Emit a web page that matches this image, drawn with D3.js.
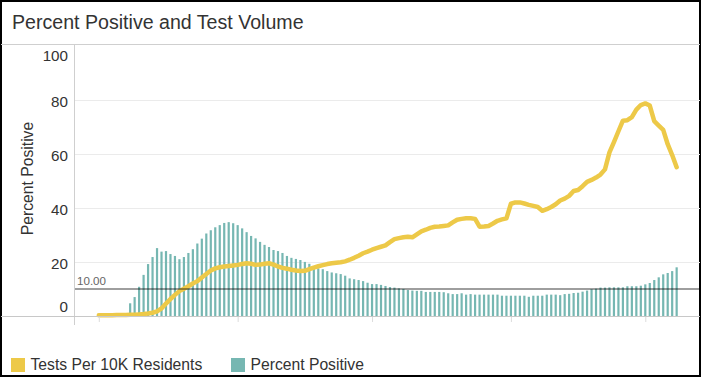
<!DOCTYPE html>
<html>
<head>
<meta charset="utf-8">
<script src="https://cdn.jsdelivr.net/npm/d3@7"></script>
<style>
  html, body { margin: 0; padding: 0; background: #fff; }
  svg { display: block; font-family: "Liberation Sans", Arial, sans-serif; }
</style>
</head>
<body>
<svg id="chart" width="701" height="378"></svg>
<script>
// ---- data ----
const title = "Percent Positive and Test Volume";
const yAxisTitle = "Percent Positive";
const seriesNames = ["Tests Per 10K Residents", "Percent Positive"];
const startDate = new Date(2020, 2, 1);   // Mar 1 2020
const endDate = new Date(2020, 6, 9);     // exclusive: last day Jul 8 2020
const yTicks = [0, 20, 40, 60, 80, 100];
const referenceValue = 10;
const referenceLabel = "10.00";

const percentPositive = [
  0, 0, 0, 0, 0, 0, 0, 4.7, 7.0, 10.8,
  15.2, 19.2, 21.8, 25.1, 23.8, 24.0, 22.9, 22.2, 21.0, 21.8,
  23.3, 24.7, 26.8, 28.6, 30.5, 31.7, 32.8, 33.6, 34.4, 34.7,
  34.3, 33.6, 32.4, 31.0, 29.6, 28.7, 27.4, 26.3, 25.5, 24.4,
  24.0, 23.3, 22.2, 21.5, 21.1, 20.7, 20.0, 19.3, 18.5, 17.6,
  17.3, 16.6, 16.1, 15.8, 15.5, 14.9, 13.9, 13.6, 13.3, 12.9,
  12.3, 11.8, 11.8, 11.5, 11.1, 10.7, 10.5, 10.2, 10.0, 9.6,
  9.4, 9.3, 9.3, 8.9, 8.9, 8.9, 8.9, 8.8, 8.4, 8.1,
  8.1, 8.4, 7.9, 8.1, 7.9, 7.9, 7.9, 7.9, 7.9, 7.9,
  7.5, 7.5, 7.5, 7.5, 7.5, 7.5, 7.1, 7.5, 7.5, 7.5,
  7.9, 7.9, 7.9, 7.7, 8.1, 8.2, 8.5, 8.6, 9.0, 9.4,
  9.9, 10.1, 10.5, 10.5, 10.6, 10.6, 10.6, 10.6, 11.0, 11.0,
  11.0, 11.2, 11.7, 12.2, 13.3, 14.3, 15.4, 15.9, 16.6, 18.0
];

const testsPer10K = [
  0.3, 0.3, 0.3, 0.3, 0.4, 0.4, 0.4, 0.5, 0.5, 0.6,
  0.7, 0.9, 1.2, 1.7, 2.8, 4.6, 6.3, 7.8, 9.2, 10.1,
  11.0, 12.0, 12.9, 14.2, 15.5, 16.8, 17.6, 18.0, 18.3, 18.5,
  18.7, 18.9, 19.2, 19.5, 19.3, 18.9, 19.0, 19.3, 19.5, 19.0,
  18.3, 17.8, 17.5, 17.1, 16.8, 16.6, 16.7, 17.3, 17.9, 18.4,
  18.8, 19.2, 19.5, 19.7, 19.9, 20.2, 20.8, 21.5, 22.3, 23.2,
  23.8, 24.5, 25.1, 25.6, 26.1, 27.3, 28.4, 28.8, 29.1, 29.3,
  29.1, 30.2, 31.3, 31.9, 32.6, 33.0, 33.1, 33.3, 33.5, 34.6,
  35.6, 35.9, 36.1, 36.1, 35.9, 33.0, 33.1, 33.3, 34.2, 35.2,
  35.7, 36.1, 41.5, 42.0, 42.0, 41.6, 41.1, 40.7, 40.3, 38.9,
  39.5, 40.3, 41.3, 42.7, 43.4, 44.4, 46.2, 46.6, 48.0, 49.6,
  50.3, 51.2, 52.3, 54.2, 60.5, 64.3, 68.3, 72.2, 72.4, 73.5,
  76.3, 78.0, 78.6, 77.8, 72.0, 70.4, 68.8, 63.5, 59.5, 55.0
];

const dates = d3.timeDay.range(startDate, endDate);

// ---- styles ----
const barColor = "#76b7b2";
const lineColor = "#edc948";
const textColor = "#333";

const W = 701, H = 378;
const plotLeft = 74, plotRight = 700, plotTop = 44, plotBottom = 316;

const svg = d3.select("#chart");

const x = d3.scaleTime()
  .domain([new Date(2020, 2, 1), new Date(2020, 6, 1)])
  .range([98.8, 645.3]);
const y = d3.scaleLinear().domain([0, 100]).range([316, 45.5]);

// outer frame
svg.append("rect").attr("x", 1).attr("y", 1).attr("width", 699).attr("height", 375)
  .attr("fill", "#fff").attr("stroke", "#000").attr("stroke-width", 2);

// title
svg.append("text").attr("x", 12).attr("y", 29)
  .attr("font-size", 19.6).attr("fill", textColor).text(title);

svg.append("line").attr("x1", 1).attr("x2", 700).attr("y1", 44.5).attr("y2", 44.5)
  .attr("stroke", "#cfcfcf").attr("stroke-width", 1);

// gridlines
svg.append("g").selectAll("line").data(yTicks.filter(d => d > 0 && d < 100)).join("line")
  .attr("x1", plotLeft).attr("x2", plotRight)
  .attr("y1", d => Math.round(y(d)) + 0.5).attr("y2", d => Math.round(y(d)) + 0.5)
  .attr("stroke", "#ebebeb").attr("stroke-width", 1);

// y tick labels
svg.append("g").selectAll("text").data(yTicks).join("text")
  .attr("x", 68).attr("text-anchor", "end")
  .attr("y", d => Math.max(56, Math.min(307, y(d) + 1.5)) + 5.4)
  .attr("font-size", 15.2).attr("fill", textColor)
  .text(d => d);

// y axis title
svg.append("text")
  .attr("transform", "translate(33,178.5) rotate(-90)")
  .attr("text-anchor", "middle").attr("font-size", 15.7).attr("fill", textColor)
  .text(yAxisTitle);

// bars
const barW = 2.2;
svg.append("g").selectAll("rect").data(dates).join("rect")
  .attr("x", (d) => x(d) - barW / 2)
  .attr("width", barW)
  .attr("y", (d, i) => y(percentPositive[i]))
  .attr("height", (d, i) => y(0) - y(percentPositive[i]))
  .attr("fill", barColor);

// line
const line = d3.line()
  .x(d => x(d))
  .y((d, i) => y(testsPer10K[i]));
svg.append("path").datum(dates)
  .attr("d", line)
  .attr("fill", "none").attr("stroke", lineColor)
  .attr("stroke-width", 4.5).attr("stroke-linejoin", "round").attr("stroke-linecap", "round");

// reference line
svg.append("line")
  .attr("x1", plotLeft).attr("x2", plotRight)
  .attr("y1", y(referenceValue)).attr("y2", y(referenceValue))
  .attr("stroke", "rgba(0,0,0,0.38)").attr("stroke-width", 2);
svg.append("text").attr("x", 77).attr("y", y(referenceValue) - 3.5)
  .attr("font-size", 11.6).attr("fill", "#666").text(referenceLabel);

// left axis line and baseline
svg.append("line").attr("x1", plotLeft + 0.5).attr("x2", plotLeft + 0.5)
  .attr("y1", plotTop).attr("y2", 325)
  .attr("stroke", "#cfcfcf").attr("stroke-width", 1);
svg.append("line").attr("x1", 1).attr("x2", 700).attr("y1", plotBottom + 0.5).attr("y2", plotBottom + 0.5)
  .attr("stroke", "#c8c8c8").attr("stroke-width", 1);

// monthly ticks
const xAxis = d3.axisBottom(x).ticks(d3.timeMonth.every(1)).tickSize(5).tickFormat("");
const gx = svg.append("g").attr("transform", `translate(0,${plotBottom + 1})`).call(xAxis);
gx.select(".domain").remove();
gx.selectAll(".tick line").attr("stroke", "#dcdcdc");

// legend
const legend = svg.append("g");
const legendX = [11, 231];
const legendColors = [lineColor, barColor];
seriesNames.forEach((name, i) => {
  legend.append("rect").attr("x", legendX[i]).attr("y", 358).attr("width", 14).attr("height", 14)
    .attr("fill", legendColors[i]);
  legend.append("text").attr("x", legendX[i] + 19.5).attr("y", 369.5)
    .attr("font-size", 15.7).attr("fill", textColor).text(name);
});
</script>
</body>
</html>
